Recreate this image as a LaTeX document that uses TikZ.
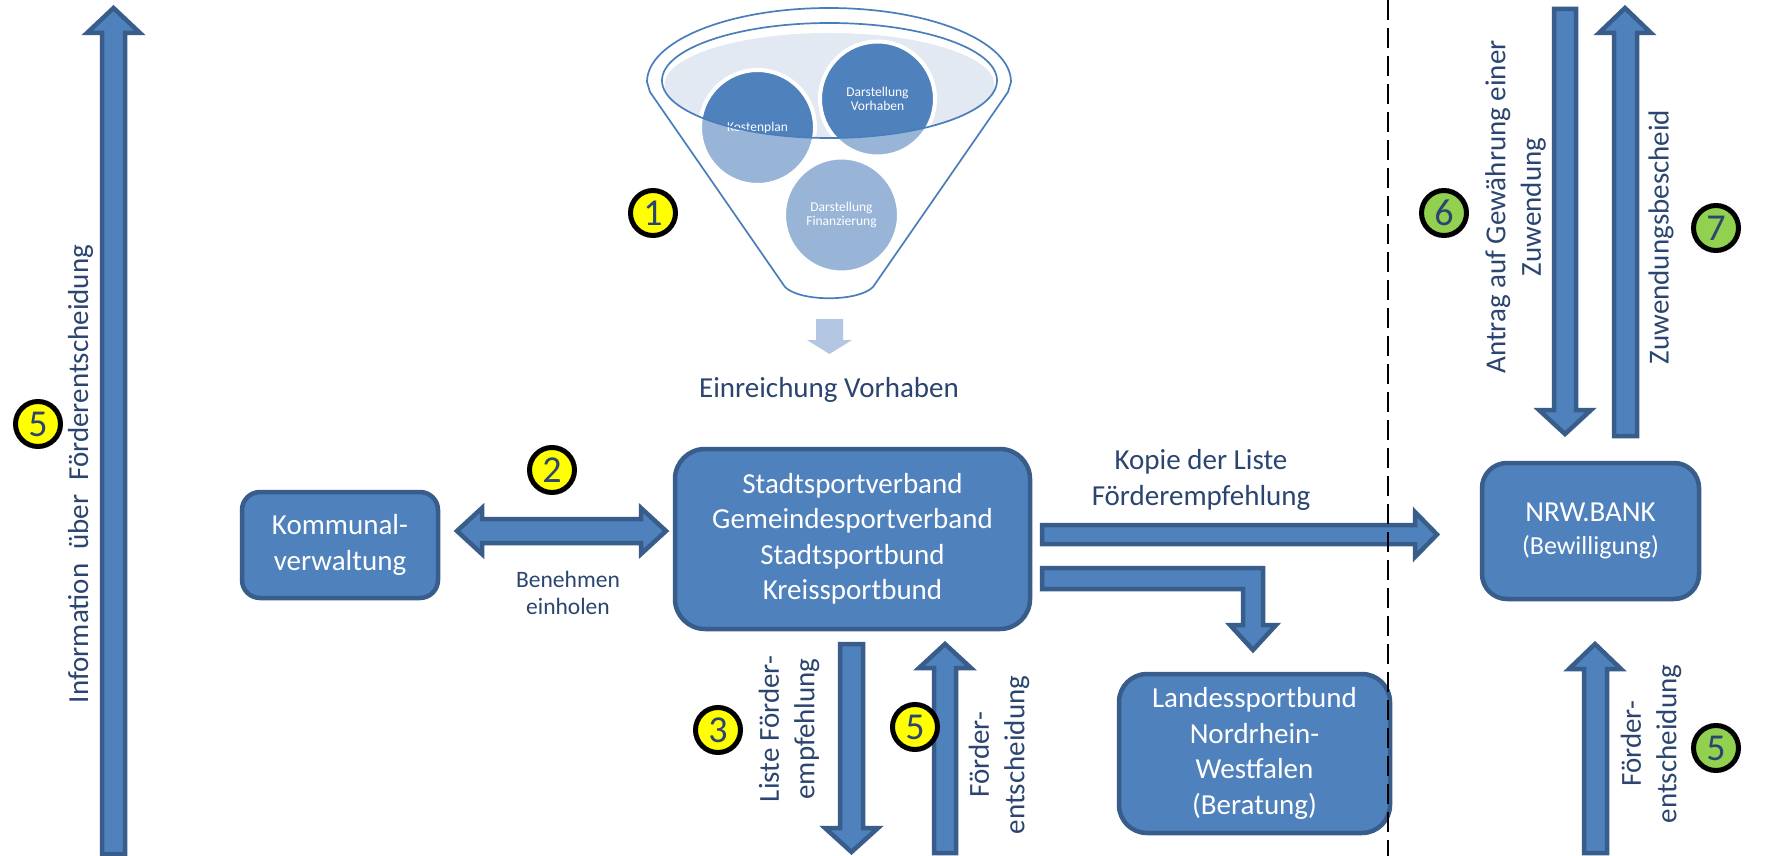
\documentclass[tikz,border=0pt]{standalone}
\usepackage{fontspec}
\setmainfont{Carlito}
\definecolor{boxblue}{HTML}{4F81BD}
\definecolor{boxline}{HTML}{385D8A}
\definecolor{dtext}{HTML}{2B4570}
\definecolor{lightarrow}{HTML}{B3C6E2}
\definecolor{ellfill}{HTML}{E3E9F2}
\definecolor{funnelline}{HTML}{4A7EBB}
\definecolor{ngreen}{HTML}{92D050}
\definecolor{nyellow}{HTML}{FFFF00}
\newcommand\lblfont{\fontsize{29}{35.5}\selectfont}
\newcommand\benfont{\fontsize{23.5}{27}\selectfont}
\newcommand\numfont{\fontsize{38}{40}\selectfont}
\newcommand\smallfont{\fontsize{13.5}{14}\selectfont}
\newcommand\bewfont{\fontsize{26}{30}\selectfont}
\begin{document}
\begin{tikzpicture}[x=1pt,y=-1pt,
  orgbox/.style={rounded corners=#1, fill=boxblue, draw=boxline, line width=4.5pt, text=white, align=center, font=\lblfont, inner sep=0pt},
  barrow/.style={fill=boxblue, draw=boxline, line width=4.5pt, line join=miter},
  lbl/.style={text=dtext, font=\lblfont, align=center, inner sep=0pt},
  numc/.style={circle, fill=#1, draw=black, line width=5pt, minimum size=45pt, inner sep=0pt, font=\numfont, text=dtext},
  fcirc/.style={circle, fill=boxblue, draw=white, line width=4pt, minimum size=115pt, inner sep=0pt, text=white, align=center, font=\smallfont},
  funnelstroke/.style={draw=funnelline, line width=1.7pt}
]
\useasboundingbox (0,0) rectangle (1773,856);
\fill[white] (0,0) rectangle (1773,856);

% ---------- funnel ----------
\fill[ellfill] (829.5,85) ellipse [x radius=165, y radius=52];
\node[fcirc] (ck) at (757.5,127.5) {Kostenplan};
\node[fcirc] (cv) at (877.5,99) {Darstellung\\Vorhaben};
\node[fcirc] (cf) at (841.5,215) {Darstellung\\Finanzierung};
\fill[white, fill opacity=0.42, even odd rule]
  (647,82) arc[start angle=180, end angle=360, x radius=182, y radius=74]
  -- (1008,92) -- (873,287) .. controls (858,302) and (800,302) .. (785,287)
  -- (650,92) -- cycle
  (829.5,80.5) ellipse [x radius=167.5, y radius=57.5];
\draw[funnelstroke, line join=round]
  (647,82) arc[start angle=180, end angle=360, x radius=182, y radius=74]
  -- (1008,92) -- (873,287) .. controls (858,302) and (800,302) .. (785,287)
  -- (650,92) -- cycle;
\draw[funnelstroke] (829.5,80.5) ellipse [x radius=167.5, y radius=57.5];
\fill[lightarrow] (816,319) -- (843,319) -- (843,340) -- (852,340) -- (829.5,354) -- (807,340) -- (816,340) -- cycle;
\node[lbl, anchor=base] (tein) at (829,397) {Einreichung Vorhaben};

% ---------- boxes ----------
\node[orgbox=18pt, minimum width=196pt, minimum height=106pt] (kom) at (340,545) {Kommunal-\\verwaltung};
\node[orgbox=30pt, minimum width=355pt, minimum height=180pt] (ssv) at (852.5,539) {Stadtsportverband\\Gemeindesportverband\\Stadtsportbund\\Kreissportbund};
\node[orgbox=28pt, minimum width=271pt, minimum height=159pt] (lsb) at (1254.5,753.5) {Landessportbund\\Nordrhein-\\Westfalen\\(Beratung)};
\node[orgbox=25pt, minimum width=217pt, minimum height=136pt] (nrw) at (1590.5,531) {NRW.BANK\\[-2.5pt]{\bewfont (Bewilligung)}};

% ---------- block arrows ----------
% left: information
\draw[barrow] (102,854) -- (102,33) -- (87,33) -- (113.5,8) -- (140,33) -- (125,33) -- (125,854) -- cycle;
% Kommunalverwaltung <-> Stadtsportverband
\draw[barrow] (457,531) -- (482,508) -- (482,519) -- (641,519) -- (641,508) -- (666,531) -- (641,554) -- (641,543) -- (482,543) -- (482,554) -- cycle;
% Kopie der Liste
\draw[barrow] (1042,525) -- (1415,525) -- (1415,512) -- (1437,534.5) -- (1415,557) -- (1415,544) -- (1042,544) -- cycle;
% bent arrow to Landessportbund
\draw[barrow] (1042,568) -- (1263,568) -- (1263,625) -- (1276,625) -- (1253,650) -- (1230,625) -- (1243,625) -- (1243,589) -- (1042,589) -- cycle;
% Liste Foerderempfehlung (down)
\draw[barrow] (840,644) -- (863,644) -- (863,828) -- (878,828) -- (851.5,852) -- (825,828) -- (840,828) -- cycle;
% Foerderentscheidung (up, middle)
\draw[barrow] (934,853) -- (934,668) -- (919,668) -- (945,644) -- (971,668) -- (956,668) -- (956,853) -- cycle;
% Antrag (down)
\draw[barrow] (1554,9) -- (1576,9) -- (1576,410) -- (1591,410) -- (1565,434) -- (1539,410) -- (1554,410) -- cycle;
% Zuwendungsbescheid (up)
\draw[barrow] (1614,436) -- (1614,33) -- (1599,33) -- (1625,8) -- (1651,33) -- (1637,33) -- (1637,436) -- cycle;
% Foerderentscheidung (up, right)
\draw[barrow] (1584,853) -- (1584,669) -- (1569,669) -- (1595,644) -- (1621,669) -- (1607,669) -- (1607,853) -- cycle;

% ---------- labels ----------
\node[lbl] (tkop) at (1201,480) {Kopie der Liste\\Förderempfehlung};
\node[lbl, font=\benfont] (tben) at (568,593) {Benehmen\\einholen};
\node[lbl, rotate=90] (tinfo) at (80.5,474) {Information\hspace{14pt}über\hspace{14pt}Förderentscheidung};
\node[lbl, rotate=90] (tliste) at (789,729) {Liste Förder-\\empfehlung};
\node[lbl, rotate=90] (tfe1) at (999,755) {Förder-\\entscheidung};
\node[lbl, rotate=90] (tantrag) at (1515.5,207) {Antrag auf Gewährung einer\\Zuwendung};
\node[lbl, rotate=90] (tzuw) at (1661,237) {Zuwendungsbescheid};
\node[lbl, rotate=90] (tfe2) at (1651,744) {Förder-\\entscheidung};

% ---------- numbered markers ----------
\node[numc=nyellow] (n1) at (653,213) {1};
\node[numc=nyellow] (n2) at (552,470) {2};
\node[numc=nyellow] (n3) at (718,730) {3};
\node[numc=nyellow] (n5b) at (915,727) {5};
\node[numc=nyellow] (n5a) at (38,424) {5};
\node[numc=ngreen] (n6) at (1444,213) {6};
\node[numc=ngreen] (n7) at (1716,228) {7};
\node[numc=ngreen] (n5c) at (1716,748) {5};

% ---------- dashed separator ----------
\coordinate (dtop) at (1388,0);
\coordinate (dbot) at (1388,856);
\draw[black, line width=2pt, dash pattern=on 20pt off 8pt] (dtop) -- (dbot);
\end{tikzpicture}
\end{document}
